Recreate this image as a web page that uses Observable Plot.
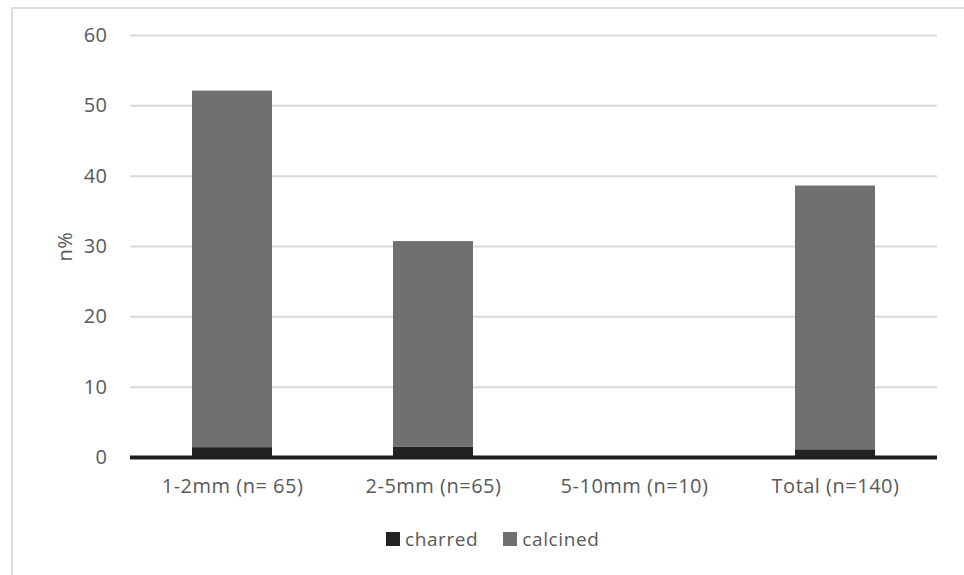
<!DOCTYPE html>
<html>
<head>
<meta charset="utf-8">
<script src="https://cdn.jsdelivr.net/npm/d3@7"></script>
<script src="https://cdn.jsdelivr.net/npm/@observablehq/plot@0.6"></script>
<style>
  html, body { margin: 0; padding: 0; background: #fff; }
  body { width: 964px; height: 575px; position: relative; overflow: hidden; font-family: "Open Sans", sans-serif; }
  #frame { position: absolute; left: 11px; top: 7px; width: 960px; height: 600px; border: 2px solid #dcdcdc; box-sizing: border-box; }
  #chart { position: absolute; left: 0; top: 0; }
  #chart svg text { letter-spacing: 0.5px; }
  #legend { position: absolute; left: 0; top: 526px; width: 964px; display: flex; justify-content: flex-start; padding-left: 386px; box-sizing: border-box;
            font-size: 19px; letter-spacing: 0.6px; color: #595959; gap: 25px; align-items: center; }
  #legend .item { display: flex; align-items: center; gap: 5px; }
  #legend .sw { width: 14px; height: 14px; display: inline-block; }
</style>
</head>
<body>
<div id="frame"></div>
<div id="chart"></div>
<div id="legend"></div>
<script>
const categories = ["1-2mm (n= 65)", "2-5mm (n=65)", "5-10mm (n=10)", "Total (n=140)"];
const seriesNames = ["charred", "calcined"];
const charred = [1.4, 1.5, 0, 1.1];
const calcined = [50.7, 29.2, 0, 37.5];
const seriesColors = ["#232323", "#707070"];
const yTicks = [0, 10, 20, 30, 40, 50, 60];

const rows = [];
categories.forEach((c, i) => {
  rows.push({category: c, type: seriesNames[0], value: charred[i]});
  rows.push({category: c, type: seriesNames[1], value: calcined[i]});
});

const chart = Plot.plot({
  width: 964,
  height: 500,
  marginLeft: 130,
  marginRight: 27,
  marginTop: 35,
  marginBottom: 43,
  style: { fontFamily: "'Open Sans', sans-serif", fontSize: "20px", color: "#595959", background: "transparent" },
  x: { domain: categories, paddingInner: 0.6, paddingOuter: 0.3, label: null },
  y: { domain: [0, 60], ticks: yTicks, label: "n%" },
  color: { domain: seriesNames, range: seriesColors },
  marks: [
    Plot.gridY(yTicks, { stroke: "#d9d9d9", strokeOpacity: 1, strokeWidth: 2 }),
    Plot.barY(rows, { x: "category", y: "value", fill: "type", order: seriesNames }),
    Plot.ruleY([0], { stroke: "#1e1e1e", strokeWidth: 4 }),
    Plot.axisY({ ticks: yTicks, tickSize: 0, tickPadding: 23, label: "n%", labelAnchor: "center", labelArrow: "none", labelOffset: 73, fontSize: 20 }),
    Plot.axisX({ tickSize: 0, tickPadding: 21, label: null, fontSize: 20 })
  ]
});
document.getElementById("chart").appendChild(chart);

const legend = document.getElementById("legend");
seriesNames.forEach((name, i) => {
  const item = document.createElement("span");
  item.className = "item";
  const sw = document.createElement("span");
  sw.className = "sw";
  sw.style.background = seriesColors[i];
  const t = document.createElement("span");
  t.textContent = name;
  item.appendChild(sw);
  item.appendChild(t);
  legend.appendChild(item);
});
</script>
</body>
</html>
